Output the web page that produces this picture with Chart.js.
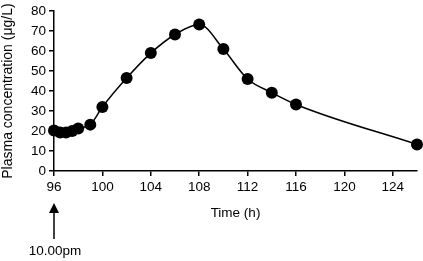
<!DOCTYPE html>
<html>
<head>
<meta charset="utf-8">
<script src="https://cdn.jsdelivr.net/npm/chart.js@4.4.0/dist/chart.umd.min.js"></script>
<style>
  html, body { margin: 0; padding: 0; background: #fff; }
  #wrap { width: 423px; height: 261px; position: relative; }
</style>
</head>
<body>
<div id="wrap"><canvas id="pkChart"></canvas></div>
<script>
// sampling times (h) and measured plasma concentration (µg/L)
const times = [96, 96.5, 97, 97.5, 98, 99, 100, 102, 104, 106, 108, 110, 112, 114, 116, 126];
const concentration = [20.3, 19.3, 19.3, 20, 21.3, 23.2, 32, 46.5, 59, 68.3, 73.3, 61, 46, 39.2, 33.3, 13.3];
const xTicks = [96, 100, 104, 108, 112, 116, 120, 124];
const yTicks = [0, 10, 20, 30, 40, 50, 60, 70, 80];
const doseTime = 96;
const doseLabel = "10.00pm";

const FONT = "'Liberation Sans', Arial, Helvetica, sans-serif";

// draws the arrow + "10.00pm" marker under the x axis
const doseArrow = {
    id: 'doseArrow',
    afterDraw(chart) {
        const ctx = chart.ctx;
        const x = chart.scales.x.getPixelForValue(doseTime);
        ctx.save();
        ctx.fillStyle = '#000';
        ctx.strokeStyle = '#000';
        ctx.lineWidth = 1.5;
        ctx.beginPath();
        ctx.moveTo(x, 210);
        ctx.lineTo(x, 239);
        ctx.stroke();
        ctx.beginPath();
        ctx.moveTo(x, 203);
        ctx.lineTo(x - 5, 213);
        ctx.lineTo(x + 5, 213);
        ctx.closePath();
        ctx.fill();
        ctx.font = "13.5px " + FONT;
        ctx.textAlign = 'center';
        ctx.textBaseline = 'middle';
        ctx.fillText(doseLabel, x + 1, 251);
        ctx.restore();
    }
};

const ctx = document.getElementById("pkChart").getContext("2d");
new Chart(ctx, {
    type: 'line',
    data: {
        datasets: [{
            data: times.map((t, i) => ({ x: t, y: concentration[i] })),
            borderColor: '#000',
            backgroundColor: '#000',
            borderWidth: 1.5,
            pointRadius: 6,
            pointBackgroundColor: '#000',
            pointBorderWidth: 0,
            cubicInterpolationMode: 'monotone',
            fill: false,
            clip: false
        }]
    },
    options: {
        responsive: true,
        maintainAspectRatio: false,
        animation: false,
        layout: { padding: { top: 10, right: 3, bottom: 40, left: 0 } },
        scales: {
            x: {
                type: 'linear',
                min: 96,
                max: 126,
                afterBuildTicks: axis => { axis.ticks = xTicks.map(v => ({ value: v })); },
                afterFit: scale => { scale.height = 50; },
                grid: { drawOnChartArea: false, drawTicks: true, tickLength: 5, color: '#000', lineWidth: 1.5 },
                border: { display: true, color: '#000', width: 1.5 },
                ticks: { color: '#000', font: { family: FONT, size: 13.5 }, padding: 3, maxRotation: 0 },
                title: { display: true, text: 'Time (h)', color: '#000', font: { family: FONT, size: 13.5 }, padding: { top: 4, bottom: 0 } }
            },
            y: {
                min: 0,
                max: 80,
                afterBuildTicks: axis => { axis.ticks = yTicks.map(v => ({ value: v })); },
                afterFit: scale => { scale.width = 54; },
                grid: { drawOnChartArea: false, drawTicks: true, tickLength: 5, color: '#000', lineWidth: 1.5 },
                border: { display: true, color: '#000', width: 1.5 },
                ticks: { color: '#000', font: { family: FONT, size: 13.5 }, padding: 3 },
                title: { display: true, text: 'Plasma concentration (\u03bcg/L)', color: '#000', font: { family: FONT, size: 14 }, padding: { top: 0, bottom: 1 } }
            }
        },
        plugins: {
            legend: { display: false },
            tooltip: { enabled: false }
        }
    },
    plugins: [doseArrow]
});
</script>
</body>
</html>
